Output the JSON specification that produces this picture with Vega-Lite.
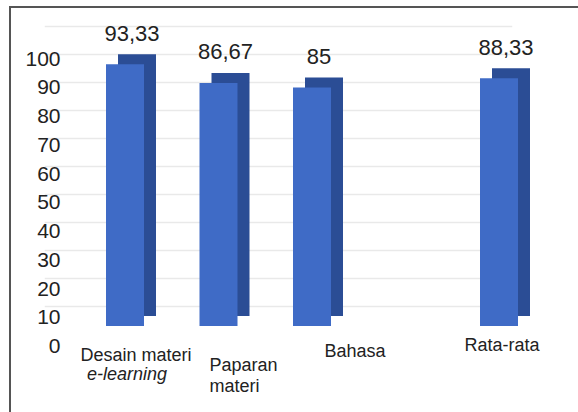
{
  "$schema": "https://vega.github.io/schema/vega-lite/v6.json",
  "width": 570,
  "height": 410,
  "autosize": {"type": "none"},
  "padding": {"left": 10, "top": 7, "right": 0, "bottom": 0},
  "background": "white",
  "config": {
    "view": {"stroke": "#555555", "strokeWidth": 2},
    "font": "Liberation Sans",
    "locale": {"number": {"decimal": ",", "thousands": ".", "grouping": [3], "currency": ["", ""]}}
  },
  "data": {
    "values": [
      {"kategori": "Desain materi", "sub": "e-learning", "nilai": 93.33},
      {"kategori": "Paparan materi", "nilai": 86.67},
      {"kategori": "Bahasa", "nilai": 85},
      {"kategori": "Rata-rata", "nilai": 88.33}
    ]
  },
  "encoding": {
    "x": {
      "field": "kategori",
      "type": "nominal",
      "sort": null,
      "scale": {
        "domain": ["Desain materi", "Paparan materi", "Bahasa", " ", "Rata-rata"],
        "range": [68.25, 535.75],
        "paddingInner": 0,
        "paddingOuter": 0
      },
      "axis": {
        "title": null,
        "orient": "bottom",
        "offset": -85,
        "ticks": false,
        "tickSize": 0,
        "domain": false,
        "grid": false,
        "labelAngle": 0,
        "labelFontSize": 18,
        "labelColor": "#222222",
        "labelBaseline": "top",
        "labelLineHeight": 21,
        "labelOverlap": false,
        "labelExpr": "datum.value == 'Paparan materi' ? ['Paparan', 'materi'] : datum.value",
        "labelAlign": {"condition": {"test": "datum.value == 'Paparan materi'", "value": "left"}, "value": "center"},
        "labelOffset": {
          "condition": [
            {"test": "datum.value == 'Desain materi'", "value": 11},
            {"test": "datum.value == 'Paparan materi'", "value": -9},
            {"test": "datum.value == 'Bahasa'", "value": 43},
            {"test": "datum.value == 'Rata-rata'", "value": 3}
          ],
          "value": 0
        },
        "labelPadding": {
          "condition": [
            {"test": "datum.value == 'Desain materi'", "value": 14},
            {"test": "datum.value == 'Paparan materi'", "value": 24},
            {"test": "datum.value == 'Bahasa'", "value": 10},
            {"test": "datum.value == 'Rata-rata'", "value": 4}
          ],
          "value": 10
        }
      }
    }
  },
  "layer": [
    {
      "mark": {"type": "text", "fontSize": 22, "color": "#222222", "baseline": "middle", "align": "center", "dy": -11, "dx": 7},
      "encoding": {
        "y": {
          "field": "nilai",
          "type": "quantitative",
          "scale": {"domain": [-39.64, 106.79], "nice": false, "zero": false},
          "axis": {
            "title": null,
            "orient": "right",
            "values": [0, 10, 20, 30, 40, 50, 60, 70, 80, 90, 100],
            "labels": false,
            "ticks": false,
            "domain": false,
            "grid": true,
            "gridColor": "#e9e9e9",
            "gridWidth": 1.5
          }
        },
        "text": {"field": "nilai", "type": "quantitative", "format": ".2~f"}
      }
    },
    {
      "mark": {"type": "bar", "width": 38, "xOffset": 12, "yOffset": -10, "color": "#2B4D95"},
      "encoding": {
        "y": {
          "field": "nilai",
          "type": "quantitative",
          "scale": {"domain": [-32.44, 113.73], "nice": false, "zero": false},
          "axis": null
        }
      }
    },
    {
      "mark": {"type": "bar", "width": 38, "color": "#3F6BC6"},
      "encoding": {
        "y": {
          "field": "nilai",
          "type": "quantitative",
          "scale": {"domain": [-32.44, 113.73], "nice": false, "zero": false},
          "axis": null
        }
      }
    },
    {
      "transform": [{"filter": "isValid(datum.sub)"}],
      "mark": {"type": "text", "fontSize": 18, "fontStyle": "italic", "color": "#222222", "baseline": "top", "align": "center", "dy": 19.5, "dx": 2},
      "encoding": {
        "y": {
          "datum": 0,
          "type": "quantitative",
          "scale": {"domain": [-24.52, 118.09], "nice": false, "zero": false},
          "axis": {
            "title": null,
            "orient": "left",
            "values": [0, 10, 20, 30, 40, 50, 60, 70, 80, 90, 100],
            "offset": -50,
            "ticks": false,
            "tickSize": 0,
            "labelPadding": 0,
            "domain": false,
            "grid": false,
            "labelFontSize": 21,
            "labelColor": "#222222"
          }
        },
        "text": {"field": "sub"}
      }
    }
  ],
  "resolve": {"scale": {"y": "independent"}, "axis": {"y": "independent"}}
}
